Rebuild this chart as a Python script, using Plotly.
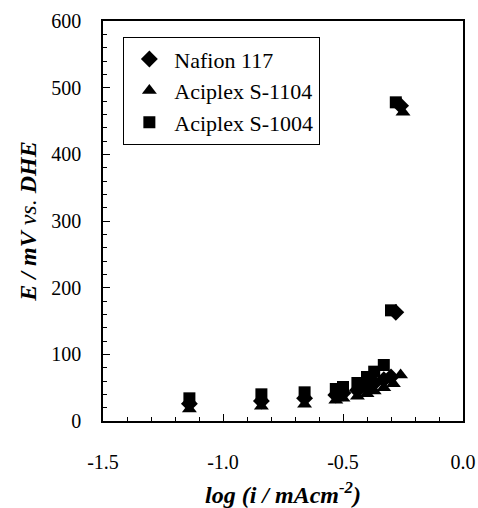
import plotly.graph_objects as go

# Data
nafion_x = [-1.14, -0.84, -0.66, -0.53, -0.50, -0.44, -0.40, -0.37, -0.33, -0.30, -0.28, -0.26]
nafion_y = [26, 30, 34, 39, 42, 46, 52, 57, 62, 66, 163, 473]

s1104_x = [-1.14, -0.84, -0.66, -0.53, -0.50, -0.44, -0.40, -0.37, -0.33, -0.29, -0.26, -0.25]
s1104_y = [18, 22, 25, 31, 34, 37, 41, 45, 50, 56, 69, 463]

s1004_x = [-1.14, -0.84, -0.66, -0.53, -0.50, -0.44, -0.40, -0.37, -0.33, -0.30, -0.28]
s1004_y = [34, 40, 43, 48, 51, 57, 66, 74, 84, 166, 478]

series_names = ["Nafion 117", "Aciplex S-1104", "Aciplex S-1004"]
x_ticks = [-1.5, -1.0, -0.5, 0.0]
x_tick_labels = ["-1.5", "-1.0", "-0.5", "0.0"]
y_ticks = [0, 100, 200, 300, 400, 500, 600]

FONT = "Liberation Serif, Times New Roman, serif"

fig = go.Figure()
fig.add_trace(go.Scatter(x=nafion_x, y=nafion_y, mode="markers", name=series_names[0],
                         marker=dict(symbol="diamond", size=13, color="black")))
fig.add_trace(go.Scatter(x=s1104_x, y=s1104_y, mode="markers", name=series_names[1],
                         marker=dict(symbol="triangle-up", size=13, color="black")))
fig.add_trace(go.Scatter(x=s1004_x, y=s1004_y, mode="markers", name=series_names[2],
                         marker=dict(symbol="square", size=12, color="black")))

axis_common = dict(showline=True, linecolor="black", linewidth=1.5, mirror=True,
                   ticks="inside", ticklen=7, tickwidth=1, tickcolor="black",
                   showgrid=False, zeroline=False, automargin=False,
                   tickfont=dict(family=FONT, size=20, color="black"))

fig.update_xaxes(range=[-1.5, 0.0], tickvals=x_ticks, ticktext=x_tick_labels,
                 ticklabelstandoff=22,
                 minor=dict(ticks="inside", ticklen=4, dtick=0.1, tickcolor="black"),
                 title=dict(text="<b><i>log (i / mAcm<sup>-2</sup>)</i></b>",
                            font=dict(family=FONT, size=24, color="black"), standoff=16),
                 **axis_common)
fig.update_yaxes(range=[0, 600], tickvals=y_ticks, ticklabelstandoff=16,
                 minor=dict(ticks="inside", ticklen=4, dtick=20, tickcolor="black"),
                 title=dict(text="<b><i>E / mV</i></b><i> vs. </i><b><i>DHE</i></b>",
                            font=dict(family=FONT, size=24, color="black"), standoff=8),
                 **axis_common)

fig.update_layout(
    width=478, height=508,
    margin=dict(l=103, r=15, t=21, b=87),
    plot_bgcolor="white", paper_bgcolor="white",
    font=dict(family=FONT, color="black"),
    legend=dict(x=0.056, y=0.96, xanchor="left", yanchor="top",
                bordercolor="black", borderwidth=1.2, bgcolor="white",
                font=dict(family=FONT, size=22, color="black"),
                itemwidth=40),
    showlegend=True,
)

fig.write_html("out.html")
